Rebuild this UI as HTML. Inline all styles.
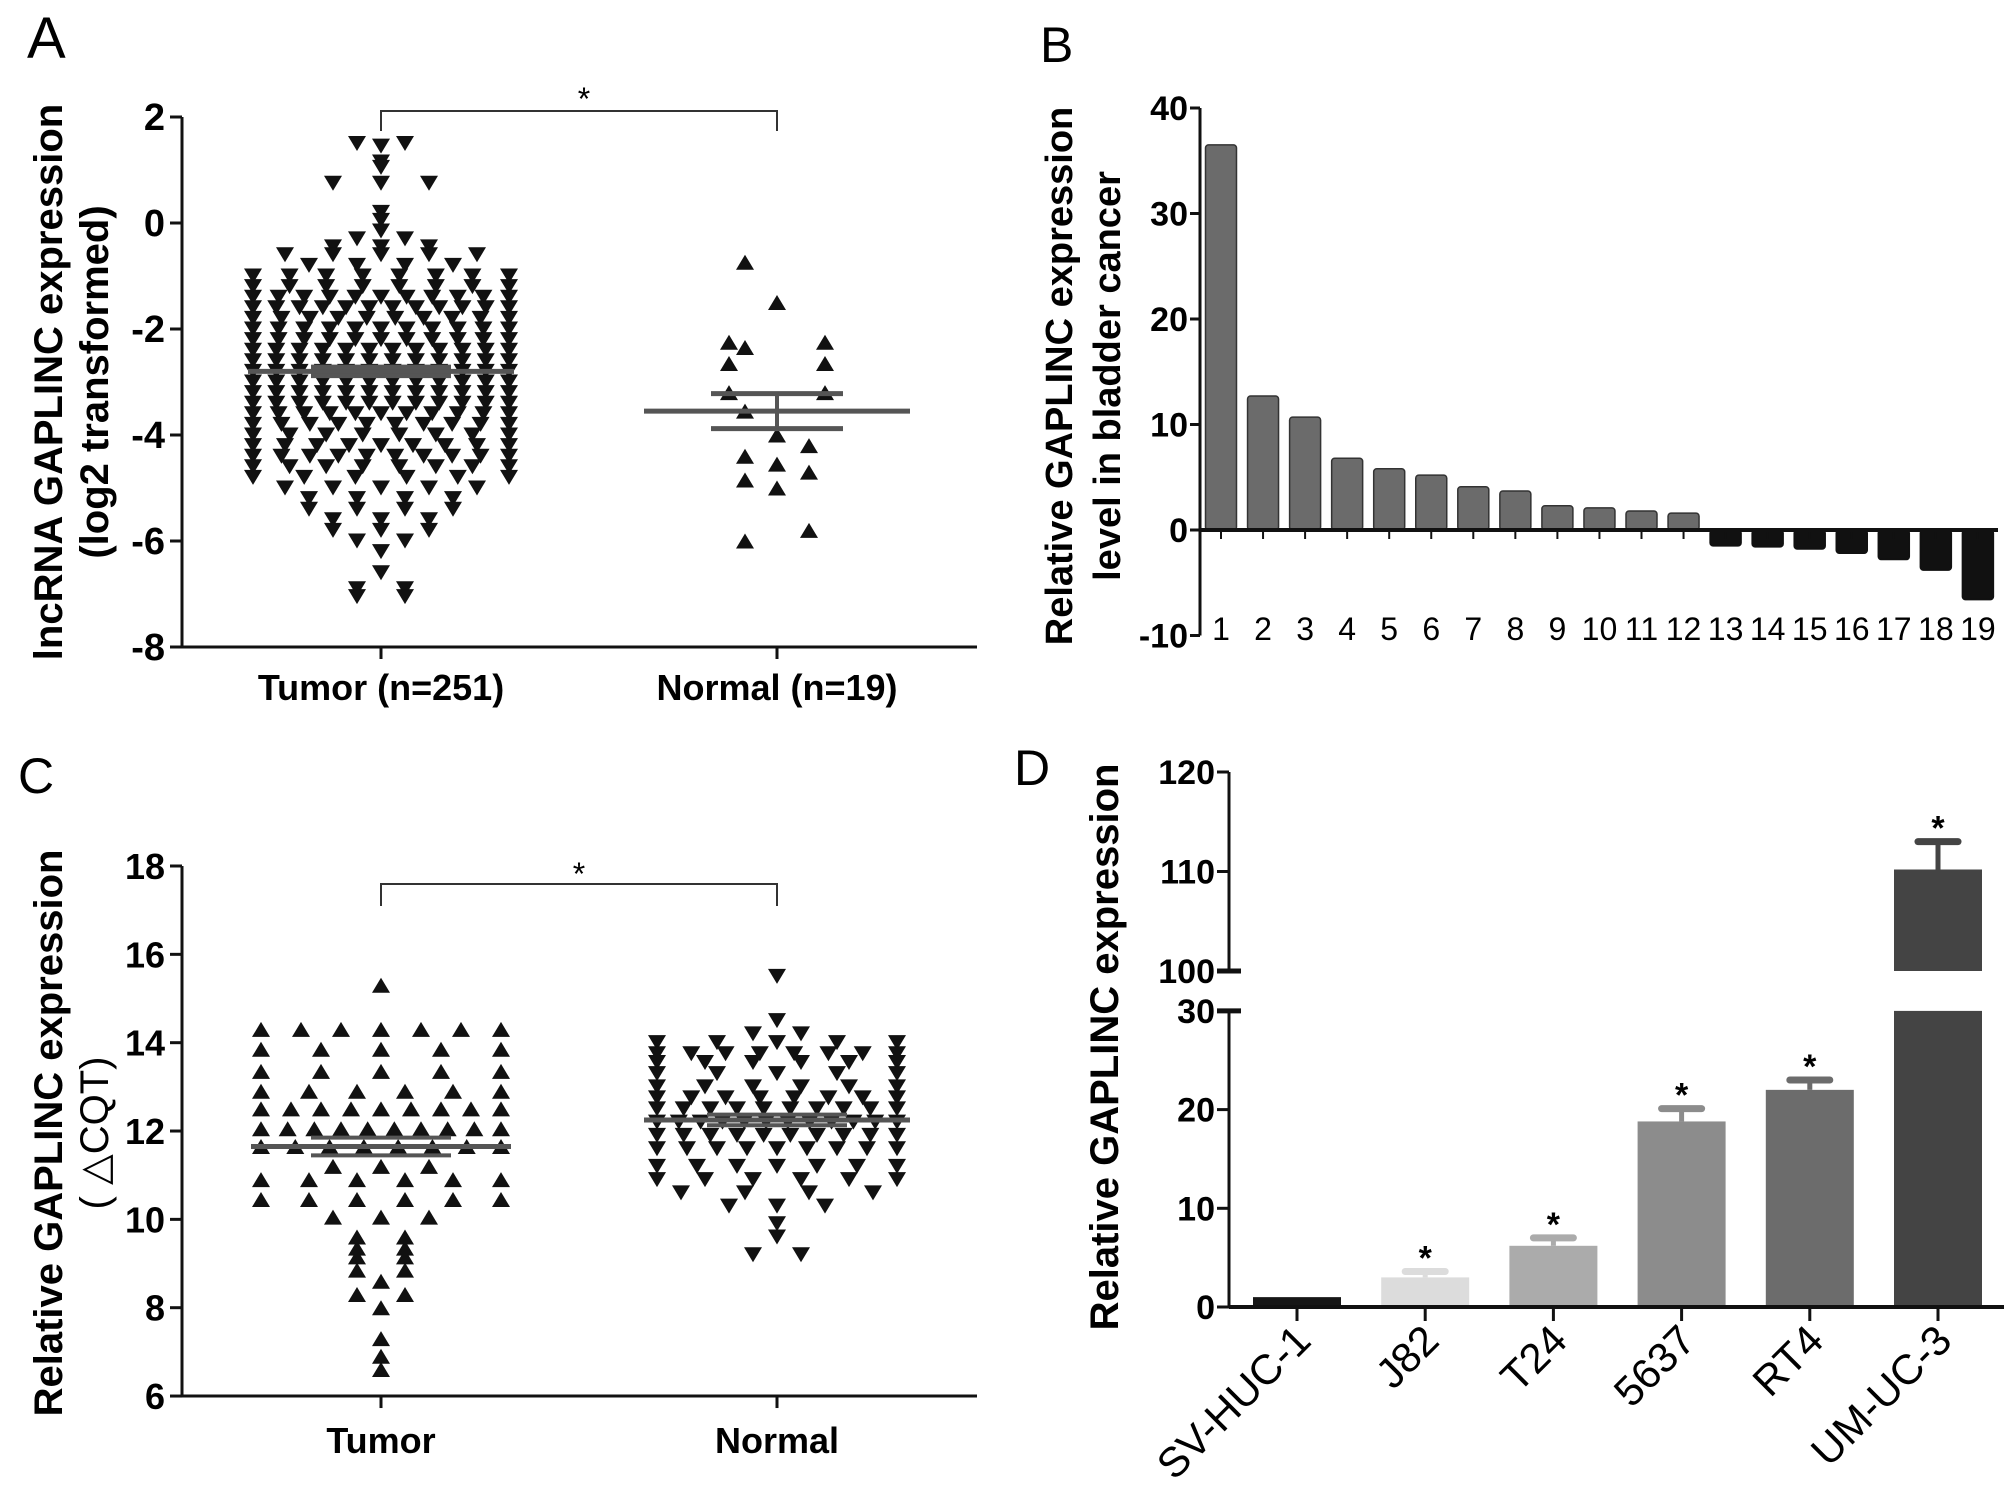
<!DOCTYPE html>
<html><head><meta charset="utf-8">
<style>
html,body{margin:0;padding:0;background:#fff;}
svg{display:block;}
text{font-family:"Liberation Sans Narrow","Liberation Sans",Arial,sans-serif;}
.b{font-weight:bold;}
</style></head>
<body>
<svg id="fig" width="2008" height="1498" viewBox="0 0 2008 1498" xmlns="http://www.w3.org/2000/svg">
<g id="A"></g>
<g id="B"></g>
<g id="C"></g>
<g id="D"></g>
</svg>
<script>
// ---------- Panel A data ----------
const aTicks = [2, 0, -2, -4, -6, -8];
const aCategories = ["Tumor (n=251)", "Normal (n=19)"];
const aTumorLevels = [1.5,1.45,1.15,1.05,0.75,0.2,0.05,-0.15,-0.3,-0.45,-0.6,-0.8,-1.0,-1.2,-1.4,-1.6,-1.8,-2.0,-2.2,-2.4,-2.6,-2.8,-3.0,-3.2,-3.4,-3.6,-3.8,-4.0,-4.2,-4.4,-4.6,-4.8,-5.0,-5.2,-5.4,-5.6,-5.8,-6.0,-6.2,-6.6,-6.9,-7.05];
const aTumorCounts = [2,1,1,1,3,1,1,1,2,3,5,4,8,8,11,12,10,11,11,12,12,12,12,12,12,11,10,8,9,10,8,6,5,4,4,3,3,2,1,1,2,2];
const aNormalValues = [-0.74,-1.5,-2.25,-2.25,-2.35,-2.65,-2.65,-3.2,-3.2,-3.55,-4.0,-4.2,-4.4,-4.55,-4.7,-4.85,-5.0,-5.8,-6.0];
const aMeans = [-2.8, -3.55];
const aSem = [0.08, 0.33];

// ---------- Panel B data ----------
const bTicks = [40, 30, 20, 10, 0, -10];
const bLabels = ["1","2","3","4","5","6","7","8","9","10","11","12","13","14","15","16","17","18","19"];
const bValues = [36.5,12.7,10.7,6.8,5.8,5.2,4.1,3.7,2.3,2.1,1.8,1.6,-1.5,-1.6,-1.8,-2.2,-2.8,-3.8,-6.6];

// ---------- Panel C data ----------
const cTicks = [18, 16, 14, 12, 10, 8, 6];
const cCategories = ["Tumor", "Normal"];
const cTumorLevels = [15.3,14.3,13.85,13.35,12.9,12.5,12.05,11.65,11.2,10.9,10.45,10.05,9.6,9.35,9.15,8.85,8.6,8.3,8.0,7.3,6.9,6.6];
const cTumorCounts = [1,7,5,5,6,9,10,8,3,6,6,3,2,2,2,2,1,2,1,1,1,1];
const cNormalLevels = [15.5,14.5,14.2,14.0,13.75,13.55,13.3,13.0,12.75,12.5,12.2,11.9,11.6,11.2,10.9,10.6,10.3,9.9,9.6,9.2];
const cNormalCounts = [1,1,2,5,8,6,5,6,8,10,12,10,9,7,6,4,3,1,1,2];
const cMeans = [11.65, 12.25];
const cSem = [0.2, 0.12];

// ---------- Panel D data ----------
const dLowTicks = [0, 10, 20, 30];
const dHighTicks = [100, 110, 120];
const dCategories = ["SV-HUC-1","J82","T24","5637","RT4","UM-UC-3"];
const dValues = [1.0, 3.0, 6.2, 18.8, 22.0, 110.2];
const dErrors = [0, 0.6, 0.8, 1.3, 1.0, 2.8];
const dStars = [false, true, true, true, true, true];

const NS = "http://www.w3.org/2000/svg";
function mk(parent, tag, attrs, txt){
  const e = document.createElementNS(NS, tag);
  for (const k in attrs) e.setAttribute(k, attrs[k]);
  if (txt !== undefined) e.textContent = txt;
  parent.appendChild(e);
  return e;
}
function tri(parent, cx, cy, down, name){
  const w = 9, h = 7.5;
  const pts = down ? `${cx-w},${cy-h} ${cx+w},${cy-h} ${cx},${cy+h}` : `${cx-w},${cy+h} ${cx+w},${cy+h} ${cx},${cy-h}`;
  const p = mk(parent, "polygon", {points: pts, fill: "#111"});
  
  
  return p;
}
function swarm(parent, levels, counts, cx, halfW, yf, down, name, maxSp, spreadMin){
  for (let i = 0; i < levels.length; i++){
    const n = counts[i];
    let sp = n > 1 ? (2*halfW)/(n-1) : 0;
    if (n < spreadMin) sp = Math.min(sp, maxSp);
    else sp = Math.min(sp, 64);
    for (let j = 0; j < n; j++){
      const x = cx + (j - (n-1)/2) * sp;
      tri(parent, x, yf(levels[i]), down, name);
    }
  }
}

// =============== Panel A ===============
(function(){
  const g = document.getElementById("A");
  const yA = v => 117 + (2 - v) * 53;
  const ax = 182, xEnd = 977, catX = [381, 777];
  const lbl = mk(g, "text", {x: 27, y: 58, "font-size": 58}, "A");
  
  
  const yl = mk(g, "line", {x1: ax, y1: yA(2), x2: ax, y2: yA(-8), stroke: "#111", "stroke-width": 3});
  
  
  const xl = mk(g, "line", {x1: ax, y1: yA(-8), x2: xEnd, y2: yA(-8), stroke: "#111", "stroke-width": 3});
  
  
  aTicks.forEach(t => {
    mk(g, "line", {x1: ax-12, y1: yA(t), x2: ax, y2: yA(t), stroke: "#111", "stroke-width": 3});
    const tl = mk(g, "text", {x: ax-17, y: yA(t)+13, "text-anchor": "end", "font-size": 38, class: "b"}, String(t));
    
    
  });
  aCategories.forEach((c, i) => {
    mk(g, "line", {x1: catX[i], y1: yA(-8), x2: catX[i], y2: yA(-8)+12, stroke: "#111", "stroke-width": 3});
    const t = mk(g, "text", {x: catX[i], y: 700, "text-anchor": "middle", "font-size": 36, class: "b"}, c);
    
    
  });
  const title = mk(g, "text", {transform: "translate(62,382) rotate(-90)", "text-anchor": "middle", "font-size": 40, class: "b"});
  
  
  mk(title, "tspan", {x: 0, dy: 0}, "lncRNA GAPLINC expression");
  mk(title, "tspan", {x: 0, dy: 46}, "(log2 transformed)");
  swarm(g, aTumorLevels, aTumorCounts, 381, 128, yA, true, "tumor-point-a", 48, 6);
  const rows = {};
  aNormalValues.forEach(v => { const k = v.toFixed(2); rows[k] = (rows[k]||0) + 1; });
  Object.keys(rows).forEach((k, idx) => {
    const n = rows[k];
    for (let j = 0; j < n; j++){
      const off = n === 1 ? ((idx % 3) - 1) * 32 : (j - (n-1)/2) * 96;
      tri(g, 777 + off, yA(parseFloat(k)), false, "normal-point-a");
    }
  });
  const halfs = [[133, 70], [133, 66]];
  aMeans.forEach((m, i) => {
    const ml = mk(g, "line", {x1: catX[i]-halfs[i][0], y1: yA(m), x2: catX[i]+halfs[i][0], y2: yA(m), stroke: "#555", "stroke-width": 5});
    
    
    mk(g, "line", {x1: catX[i]-halfs[i][1], y1: yA(m+aSem[i]), x2: catX[i]+halfs[i][1], y2: yA(m+aSem[i]), stroke: "#555", "stroke-width": 5});
    mk(g, "line", {x1: catX[i]-halfs[i][1], y1: yA(m-aSem[i]), x2: catX[i]+halfs[i][1], y2: yA(m-aSem[i]), stroke: "#555", "stroke-width": 5});
    mk(g, "line", {x1: catX[i], y1: yA(m+aSem[i]), x2: catX[i], y2: yA(m-aSem[i]), stroke: "#555", "stroke-width": 4});
  });
  const br = mk(g, "polyline", {points: `${catX[0]},131 ${catX[0]},111 ${catX[1]},111 ${catX[1]},131`, fill: "none", stroke: "#333", "stroke-width": 2});
  
  
  const st = mk(g, "text", {x: 584, y: 110, "text-anchor": "middle", "font-size": 32}, "*");
  
  
})();

// =============== Panel B ===============
(function(){
  const g = document.getElementById("B");
  const yB = v => 530 - v * 10.55;
  const ax = 1200, xEnd = 1998;
  const xB = i => 1221 + i * 42.05;
  const lbl = mk(g, "text", {x: 1040, y: 62, "font-size": 50}, "B");
  
  
  const yl = mk(g, "line", {x1: ax, y1: yB(40), x2: ax, y2: yB(-10), stroke: "#111", "stroke-width": 3});
  
  
  bTicks.forEach(t => {
    mk(g, "line", {x1: ax-10, y1: yB(t), x2: ax, y2: yB(t), stroke: "#111", "stroke-width": 3});
    const tl = mk(g, "text", {x: ax-12, y: yB(t)+12, "text-anchor": "end", "font-size": 34, class: "b"}, String(t));
    
    
  });
  bValues.forEach((v, i) => {
    const x = xB(i), y0 = yB(0), y1 = yB(v);
    const r = mk(g, "rect", {x: x-15.5, y: Math.min(y0, y1), width: 31, height: Math.abs(y1-y0), rx: 3, fill: v >= 0 ? "#6b6b6b" : "#111", stroke: v >= 0 ? "#333" : "#111", "stroke-width": 1.5});
    
    
    mk(g, "line", {x1: x, y1: y0, x2: x, y2: y0+9, stroke: "#111", "stroke-width": 2});
    const t = mk(g, "text", {x: x, y: 640, "text-anchor": "middle", "font-size": 32}, bLabels[i]);
    
    
  });
  const xl = mk(g, "line", {x1: ax, y1: yB(0), x2: xEnd, y2: yB(0), stroke: "#111", "stroke-width": 4});
  
  
  const title = mk(g, "text", {transform: "translate(1072,376) rotate(-90)", "text-anchor": "middle", "font-size": 38, class: "b"});
  
  
  mk(title, "tspan", {x: 0, dy: 0}, "Relative GAPLINC expression");
  mk(title, "tspan", {x: 0, dy: 48}, "level in bladder cancer");
})();

// =============== Panel C ===============
(function(){
  const g = document.getElementById("C");
  const yC = v => 866 + (18 - v) * 44.17;
  const ax = 182, xEnd = 977, catX = [381, 777];
  const lbl = mk(g, "text", {x: 18, y: 793, "font-size": 50}, "C");
  
  
  const yl = mk(g, "line", {x1: ax, y1: yC(18), x2: ax, y2: yC(6), stroke: "#111", "stroke-width": 3});
  
  
  const xl = mk(g, "line", {x1: ax, y1: yC(6), x2: xEnd, y2: yC(6), stroke: "#111", "stroke-width": 3});
  
  
  cTicks.forEach(t => {
    mk(g, "line", {x1: ax-12, y1: yC(t), x2: ax, y2: yC(t), stroke: "#111", "stroke-width": 3});
    const tl = mk(g, "text", {x: ax-17, y: yC(t)+13, "text-anchor": "end", "font-size": 36, class: "b"}, String(t));
    
    
  });
  cCategories.forEach((c, i) => {
    mk(g, "line", {x1: catX[i], y1: yC(6), x2: catX[i], y2: yC(6)+12, stroke: "#111", "stroke-width": 3});
    const t = mk(g, "text", {x: catX[i], y: 1453, "text-anchor": "middle", "font-size": 36, class: "b"}, c);
    
    
  });
  const title = mk(g, "text", {transform: "translate(62,1133) rotate(-90)", "text-anchor": "middle", "font-size": 40, class: "b"});
  
  
  mk(title, "tspan", {x: 0, dy: 0}, "Relative GAPLINC expression");
  mk(title, "tspan", {x: 0, dy: 46, "font-weight": "normal"}, "( △CQT)");
  swarm(g, cTumorLevels, cTumorCounts, 381, 120, yC, false, "tumor-point-c", 48, 4);
  swarm(g, cNormalLevels, cNormalCounts, 777, 120, yC, true, "normal-point-c", 48, 4);
  const halfs = [[130, 70], [133, 70]];
  cMeans.forEach((m, i) => {
    const ml = mk(g, "line", {x1: catX[i]-halfs[i][0], y1: yC(m), x2: catX[i]+halfs[i][0], y2: yC(m), stroke: "#555", "stroke-width": 5});
    
    
    mk(g, "line", {x1: catX[i]-halfs[i][1], y1: yC(m+cSem[i]), x2: catX[i]+halfs[i][1], y2: yC(m+cSem[i]), stroke: "#555", "stroke-width": 4});
    mk(g, "line", {x1: catX[i]-halfs[i][1], y1: yC(m-cSem[i]), x2: catX[i]+halfs[i][1], y2: yC(m-cSem[i]), stroke: "#555", "stroke-width": 4});
  });
  const br = mk(g, "polyline", {points: `${catX[0]},906 ${catX[0]},884 ${catX[1]},884 ${catX[1]},906`, fill: "none", stroke: "#333", "stroke-width": 2});
  
  
  const st = mk(g, "text", {x: 579, y: 885, "text-anchor": "middle", "font-size": 32}, "*");
  
  
})();

// =============== Panel D ===============
(function(){
  const g = document.getElementById("D");
  const yD = v => v <= 30 ? 1307 - v * 9.87 : 971 - (v - 100) * 9.95;
  const ax = 1229, xEnd = 2004;
  const xD = i => 1297 + i * 128.2;
  const colors = ["#161616", "#dcdcdc", "#ababab", "#8c8c8c", "#6c6c6c", "#444444"];
  const lbl = mk(g, "text", {x: 1014, y: 785, "font-size": 50}, "D");
  
  
  const yl1 = mk(g, "line", {x1: ax, y1: yD(0), x2: ax, y2: yD(30), stroke: "#111", "stroke-width": 3});
  
  
  const yl2 = mk(g, "line", {x1: ax, y1: yD(100), x2: ax, y2: yD(120), stroke: "#111", "stroke-width": 3});
  
  
  dLowTicks.concat(dHighTicks).forEach(t => {
    const big = (t === 30 || t === 100);
    mk(g, "line", {x1: ax-12, y1: yD(t), x2: ax + (big ? 12 : 0), y2: yD(t), stroke: "#111", "stroke-width": big ? 5 : 3});
    const tl = mk(g, "text", {x: ax-14, y: yD(t)+12, "text-anchor": "end", "font-size": 34, class: "b"}, String(t));
    
    
  });
  dValues.forEach((v, i) => {
    const x = xD(i), w = 88;
    if (v <= 30) {
      const r = mk(g, "rect", {x: x-w/2, y: yD(v), width: w, height: yD(0)-yD(v), fill: colors[i]});
      
      
    } else {
      const r1 = mk(g, "rect", {x: x-w/2, y: yD(30), width: w, height: yD(0)-yD(30), fill: colors[i]});
      
      
      const r2 = mk(g, "rect", {x: x-w/2, y: yD(v), width: w, height: yD(100)-yD(v), fill: colors[i]});
      
      
    }
    if (dErrors[i] > 0) {
      const top = yD(v + dErrors[i]);
      mk(g, "line", {x1: x, y1: yD(v), x2: x, y2: top, stroke: colors[i], "stroke-width": 5});
      const eb = mk(g, "line", {x1: x-20, y1: top, x2: x+20, y2: top, stroke: colors[i], "stroke-width": 7, "stroke-linecap": "round"});
      
      
    }
    if (dStars[i]) {
      const st = mk(g, "text", {x: x, y: yD(v + dErrors[i]) - 2, "text-anchor": "middle", "font-size": 34, class: "b"}, "*");
      
      
    }
    mk(g, "line", {x1: x, y1: yD(0), x2: x, y2: yD(0)+14, stroke: "#111", "stroke-width": 3});
    const t = mk(g, "text", {transform: `translate(${x+16},${yD(0)+36}) rotate(-45)`, "text-anchor": "end", "font-size": 42}, dCategories[i]);
    
    
  });
  const xl = mk(g, "line", {x1: ax, y1: yD(0), x2: xEnd, y2: yD(0), stroke: "#111", "stroke-width": 4});
  
  
  const title = mk(g, "text", {transform: "translate(1118,1047) rotate(-90)", "text-anchor": "middle", "font-size": 40, class: "b"}, "Relative GAPLINC expression");
  
  
})();
</script>
</body></html>
